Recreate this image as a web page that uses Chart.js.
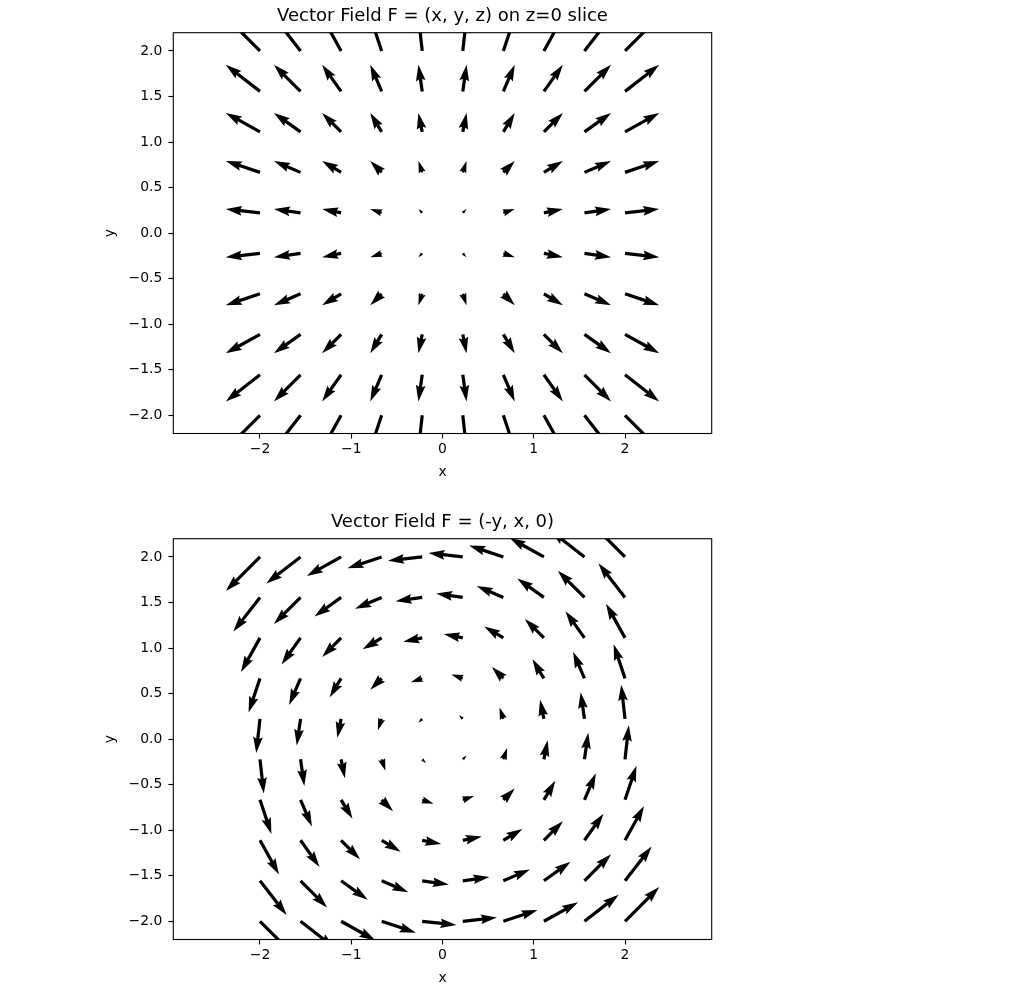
<!DOCTYPE html>
<html>
<head>
<meta charset="utf-8">
<script src="https://cdn.jsdelivr.net/npm/chart.js@4.4.1/dist/chart.umd.min.js"></script>
<style>
  html, body { margin: 0; padding: 0; background: #fff; overflow: hidden; }
  .panel { position: absolute; left: 0; }
</style>
</head>
<body>
<canvas id="radialChart" class="panel" width="1024" height="506" style="top:0"></canvas>
<canvas id="rotationChart" class="panel" width="1024" height="506" style="top:506px"></canvas>
<script>
// sample grid (linspace -2..2, 10 points) on both axes
const gridX = [-2, -1.5556, -1.1111, -0.6667, -0.2222, 0.2222, 0.6667, 1.1111, 1.5556, 2];
const gridY = [-2, -1.5556, -1.1111, -0.6667, -0.2222, 0.2222, 0.6667, 1.1111, 1.5556, 2];

const xTicks = [-2, -1, 0, 1, 2];
const xTickLabels = ['\u22122', '\u22121', '0', '1', '2'];
const yTicks = [-2, -1.5, -1, -0.5, 0, 0.5, 1, 1.5, 2];
const yTickLabels = ['\u22122.0', '\u22121.5', '\u22121.0', '\u22120.5', '0.0', '0.5', '1.0', '1.5', '2.0'];
const xRange = [-2.95, 2.95];
const yRange = [-2.2, 2.2];

const titles = ['Vector Field F = (x, y, z) on z=0 slice', 'Vector Field F = (-y, x, 0)'];

// F = (x, y, z) at z=0  and  F = (-y, x, 0)
const radialField = (x, y) => [x, y];
const rotationField = (x, y) => [-y, x];

function buildPoints(field) {
  const pts = [];
  gridY.forEach(y => gridX.forEach(x => {
    const [u, v] = field(x, y);
    pts.push({ x: x, y: y, u: u, v: v });
  }));
  return pts;
}

const FONT = 'DejaVu Sans';

// draws matplotlib-style quiver arrows (pivot at tail)
const quiverPlugin = {
  id: 'quiver',
  afterDatasetsDraw(chart) {
    const { ctx, chartArea: area, scales } = chart;
    const pxPerUnit = area.width * 0.03176; // arrow length per unit |F|
    const w = area.width * 0.006;           // shaft width
    ctx.save();
    ctx.beginPath();
    ctx.rect(area.left, area.top, area.width, area.height);
    ctx.clip();
    ctx.fillStyle = '#000';
    chart.data.datasets[0].data.forEach(p => {
      const x0 = scales.x.getPixelForValue(p.x);
      const y0 = scales.y.getPixelForValue(p.y);
      const mag = Math.hypot(p.u, p.v);
      if (!mag) return;
      const len = mag * pxPerUnit / w; // in shaft widths
      let xs, ys;
      if (len >= 5) {
        xs = [0, len - 4.5, len - 5, len, len - 5, len - 4.5, 0];
        ys = [0.5, 0.5, 1.5, 0, -1.5, -0.5, -0.5];
      } else {
        const s = len / 5;
        xs = [0, 0.5, 0, 5, 0, 0.5, 0].map(v => v * s);
        ys = [0.5, 0.5, 1.5, 0, -1.5, -0.5, -0.5].map(v => v * s);
      }
      const c = p.u / mag, sn = -p.v / mag;
      ctx.beginPath();
      xs.forEach((ax, i) => {
        const ay = ys[i];
        const px = x0 + (ax * c - ay * sn) * w;
        const py = y0 + (ax * sn + ay * c) * w;
        if (i) ctx.lineTo(px, py); else ctx.moveTo(px, py);
      });
      ctx.closePath();
      ctx.fill();
    });
    ctx.restore();

    // axes frame
    ctx.save();
    ctx.strokeStyle = '#000';
    ctx.lineWidth = 1.1;
    ctx.strokeRect(area.left, area.top, area.width, area.height);
    ctx.restore();
  }
};

function makeChart(id, title, points) {
  return new Chart(document.getElementById(id), {
    type: 'scatter',
    data: { datasets: [{ data: points, pointRadius: 0, pointHoverRadius: 0 }] },
    options: {
      responsive: false,
      animation: false,
      events: [],
      layout: { padding: { left: 0, right: 312.3, top: 0, bottom: 0 } },
      plugins: {
        legend: { display: false },
        tooltip: { enabled: false },
        title: {
          display: true,
          text: title,
          fullSize: false,
          color: '#000',
          font: { family: FONT, size: 18, weight: 'normal' },
          padding: { top: 6, bottom: 5.1 }
        }
      },
      scales: {
        x: {
          type: 'linear',
          min: xRange[0],
          max: xRange[1],
          afterBuildTicks: s => { s.ticks = xTicks.map(v => ({ value: v })); },
          afterFit: s => { s.height = 72.5; },
          grid: { drawOnChartArea: false, tickLength: 5, tickColor: '#000', tickWidth: 1.1 },
          border: { display: false },
          ticks: {
            autoSkip: false, maxRotation: 0, padding: 3, color: '#000',
            font: { family: FONT, size: 13.9 },
            callback: (v, i) => xTickLabels[i]
          },
          title: {
            display: true, text: 'x', color: '#000',
            font: { family: FONT, size: 13.9 },
            padding: { top: 0, bottom: 25.6 }
          }
        },
        y: {
          type: 'linear',
          min: yRange[0],
          max: yRange[1],
          afterBuildTicks: s => { s.ticks = yTicks.map(v => ({ value: v })); },
          afterFit: s => { s.width = 173.3; },
          grid: { drawOnChartArea: false, tickLength: 5, tickColor: '#000', tickWidth: 1.1 },
          border: { display: false },
          ticks: {
            autoSkip: false, padding: 6, color: '#000',
            font: { family: FONT, size: 13.9 },
            callback: (v, i) => yTickLabels[i]
          },
          title: {
            display: true, text: 'y', color: '#000',
            font: { family: FONT, size: 13.9 },
            padding: { top: 102.5, bottom: 0 }
          }
        }
      }
    },
    plugins: [quiverPlugin]
  });
}

makeChart('radialChart', titles[0], buildPoints(radialField));
makeChart('rotationChart', titles[1], buildPoints(rotationField));
</script>
</body>
</html>
